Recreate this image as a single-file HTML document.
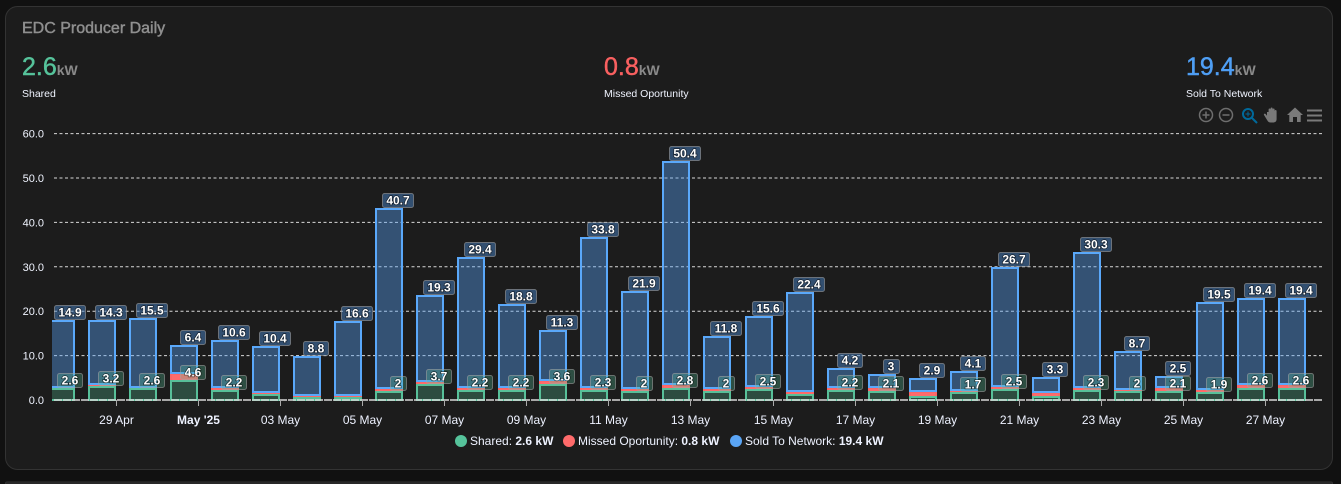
<!DOCTYPE html>
<html lang="en">
<head>
<meta charset="utf-8">
<title>EDC Producer Daily</title>
<style>
html,body{margin:0;padding:0;width:1341px;height:484px;overflow:hidden;background:#111;font-family:"Liberation Sans",Arial,sans-serif;}
svg{display:block;position:absolute;left:0;top:0;}
text{font-family:"Liberation Sans",Arial,sans-serif;}
.ylab{font-size:11px;fill:#f0f4ff;text-anchor:end;}
.xlab{font-size:12px;fill:#eef2ff;text-anchor:middle;}
.lab{font-size:12px;font-weight:bold;fill:#fff;text-anchor:middle;paint-order:stroke;stroke:rgba(0,0,0,.6);stroke-width:1.4px;}
.leg{font-size:12px;fill:#eef2ff;}
.legb{font-weight:bold;}
</style>
</head>
<body>
<svg id="chart" width="1341" height="484" viewBox="0 0 1341 484">
  <defs><clipPath id="plot-clip"><rect x="52" y="120" width="1275" height="290"/></clipPath></defs>
  <path d="M5.500 484v-0.500a1.500 1.500 0 0 1 1.500-1.500h1324a1.500 1.500 0 0 1 1.500 1.500v0.500z" fill="#1c1c1c" stroke="#333"/>
  <rect x="5.500" y="6.500" width="1327" height="463" rx="12" fill="#1c1c1c" stroke="#333"/>
  <text x="22" y="33" font-size="16" fill="#8f8f8f" stroke="#8f8f8f" stroke-width=".45">EDC Producer Daily</text>

  <text x="22" y="75"><tspan font-size="25" fill="#56c39b" stroke="#56c39b" stroke-width=".45">2.6</tspan><tspan font-size="14" font-weight="bold" fill="#8a8a8a">kW</tspan></text>
  <text x="22" y="97" font-size="10.5" fill="#f0f4ff">Shared</text>
  <text x="604" y="75"><tspan font-size="25" fill="#f96060" stroke="#f96060" stroke-width=".45">0.8</tspan><tspan font-size="14" font-weight="bold" fill="#8a8a8a">kW</tspan></text>
  <text x="604" y="97" font-size="10.5" fill="#f0f4ff">Missed Oportunity</text>
  <text x="1186" y="75"><tspan font-size="25" fill="#4f9ff5" stroke="#4f9ff5" stroke-width=".45">19.4</tspan><tspan font-size="14" font-weight="bold" fill="#8a8a8a">kW</tspan></text>
  <text x="1186" y="97" font-size="10.5" fill="#f0f4ff">Sold To Network</text>

  <g fill="none" stroke="#6e6e6e" stroke-width="1.5">
    <g><circle cx="1206" cy="115" r="6.500"/><path d="M1202.500 115h7M1206 111.500v7"/></g>
    <g><circle cx="1226" cy="115" r="6.500"/><path d="M1222.500 115h7"/></g>
    <g stroke="#00699b" stroke-width="2"><circle cx="1248" cy="114" r="5"/><path d="M1252 118l5 5"/><path d="M1245.500 114h5M1248 111.500v5" stroke-width="1"/></g>
    <path fill="#7a7a7a" stroke="none" d="M1267 112h1.600v-2.500a1 1 0 0 1 2 0v-1a1 1 0 0 1 2 0v1a1 1 0 0 1 2 0v1.500a1 1 0 0 1 2 0v8c0 2.500-1.500 3.500-3.500 3.500h-2.500c-1.500 0-2.500-.8-3.200-2l-3.400-5.500c-.6-1 .8-2 1.600-1l1.400 1.800z"/>
    <path fill="#7a7a7a" stroke="none" d="M1295 107.500l8 7.500h-2.300v7h-3.700v-5h-4v5h-3.700v-7h-2.300z"/>
    <path stroke="#7a7a7a" stroke-width="2" d="M1307 110.500h15M1307 115.500h15M1307 120.500h15"/>
  </g>

  <g id="grid"></g>
  <g id="bars" clip-path="url(#plot-clip)"></g>
  <g id="xaxis"></g>
  <g id="labels"></g>

  <g>
    <g>
      <circle cx="461" cy="441" r="6" fill="#56c39b"/>
      <text class="leg" x="470" y="445">Shared: <tspan class="legb">2.6 kW</tspan></text>
    </g>
    <g>
      <circle cx="569" cy="441" r="6" fill="#ff6b6b"/>
      <text class="leg" x="578" y="445">Missed Oportunity: <tspan class="legb">0.8 kW</tspan></text>
    </g>
    <g>
      <circle cx="736" cy="441" r="6" fill="#5aa5f5"/>
      <text class="leg" x="745" y="445">Sold To Network: <tspan class="legb">19.4 kW</tspan></text>
    </g>
  </g>
</svg>
<script>
const categories = ['28 Apr','29 Apr','30 Apr',"May '25",'02 May','03 May','04 May','05 May','06 May','07 May','08 May','09 May','10 May','11 May','12 May','13 May','14 May','15 May','16 May','17 May','18 May','19 May','20 May','21 May','22 May','23 May','24 May','25 May','26 May','27 May','28 May'];
const sharedValues = [2.6,3.2,2.6,4.6,2.2,1.3,0.6,0.6,2,3.7,2.2,2.2,3.6,2.3,2,2.8,2,2.5,1.3,2.2,2.1,0.9,1.7,2.5,0.8,2.3,2,2.1,1.9,2.6,2.6];
const missedValues = [0.2,0.2,0.2,1.2,0.4,0.3,0.35,0.3,0.4,0.4,0.4,0.4,0.7,0.45,0.5,0.5,0.45,0.5,0.5,0.5,0.6,0.9,0.4,0.5,0.8,0.5,0.2,0.65,0.4,0.7,0.7];
const soldValues = [14.9,14.3,15.5,6.4,10.6,10.4,8.8,16.6,40.7,19.3,29.4,18.8,11.3,33.8,21.9,50.4,11.8,15.6,22.4,4.2,3,2.9,4.1,26.7,3.3,30.3,8.7,2.5,19.5,19.4,19.4];
const yTicks = [0,10,20,30,40,50,60];
const SHARED_LABEL_MIN = 1.5;

const NS = 'http://www.w3.org/2000/svg';
const yScale = v => 400 - v * 4.44;
const barLeft = i => Math.round(47 + 41.03 * i);
const BAR_OUTER = 28;

function mk(tag, parent, attrs) {
  const el = document.createElementNS(NS, tag);
  for (const k in attrs) el.setAttribute(k, attrs[k]);
  parent.appendChild(el);
  return el;
}

const grid = document.getElementById('grid');
yTicks.forEach(t => {
  const y = yScale(t);
  if (t > 0) {
    const line = mk('line', grid, {x1: 54, x2: 1322, y1: y, y2: y, stroke: '#d8d8d8', 'stroke-width': 1, 'stroke-dasharray': '3 2.500'});
    
    
  }
  const label = mk('text', grid, {x: 44, y: y + 4, class: 'ylab'});
  label.textContent = t.toFixed(1);
  
  
});

function segment(parent, i, fromY, toY, fill, stroke, opacity) {
  const top = Math.round(toY), bottom = Math.round(fromY);
  return mk('rect', parent, {x: barLeft(i) + 1, y: top, width: BAR_OUTER - 2, height: Math.max(bottom - top, 0.1), fill: fill, stroke: stroke, 'stroke-width': 2, 'fill-opacity': opacity});
}

const bars = document.getElementById('bars');
categories.forEach((cat, i) => {
  const s = sharedValues[i], m = missedValues[i], v = soldValues[i];
  const g3 = segment(bars, i, yScale(s) + 1, yScale(s + m), '#ff6b6b', '#fb6767', 1);
  
  
  const g1 = segment(bars, i, yScale(0), yScale(s) + 1, '#1c1c1c', '#58c09a', 1);
  
  
  const g1b = segment(bars, i, yScale(0), yScale(s) + 1, '#55be96', 'none', 0.3);
  
  
  const g2 = segment(bars, i, yScale(s + m) - 1, yScale(s + m + v), '#5aa5fa', '#5aa8fa', 0.4);
  
  
});

const xaxis = document.getElementById('xaxis');
const axisLine = mk('line', xaxis, {x1: 54, x2: 1322, y1: 400, y2: 400, stroke: '#d8d8d8', 'stroke-width': 1.5, 'stroke-dasharray': '8 1'});


categories.forEach((cat, i) => {
  if (i % 2 === 0) return;
  const x = barLeft(i) + 28.500;
  const tick = mk('line', xaxis, {x1: x, x2: x, y1: 400, y2: 406, stroke: '#aaa', 'stroke-width': 1});
  
  
  const label = mk('text', xaxis, {x: x, y: 424, class: 'xlab'});
  label.textContent = cat;
  if (cat.indexOf("'") >= 0) label.setAttribute('font-weight', 'bold');
  
  
});

function dataLabel(parent, cx, bottom, text, fill) {
  const str = String(text);
  const dots = str.indexOf('.') >= 0 ? 1 : 0;
  const w = 11 + 6 * (str.length - dots) + 3 * dots;
  const g = mk('g', parent, {});
  mk('rect', g, {x: Math.round(cx - w / 2) + .5, y: Math.round(bottom - 15) + .5, width: w - 1, height: 14, rx: 2, fill: fill, stroke: 'rgba(165,165,165,.55)', 'stroke-width': 1});
  const t = mk('text', g, {x: cx, y: Math.round(bottom) - 3.500, class: 'lab'});
  t.textContent = str;
  return g;
}

const labels = document.getElementById('labels');
categories.forEach((cat, i) => {
  const cx = barLeft(i) + 23;
  const s = sharedValues[i], m = missedValues[i], v = soldValues[i];
  const soldTag = dataLabel(labels, cx, yScale(s + m + v) - 1, v, 'rgba(72,130,195,.5)');
  
  
  if (s >= SHARED_LABEL_MIN) {
    const sharedTag = dataLabel(labels, cx, yScale(s), s, 'rgba(86,195,155,.3)');
    
    
  }
});
</script>
</body>
</html>
